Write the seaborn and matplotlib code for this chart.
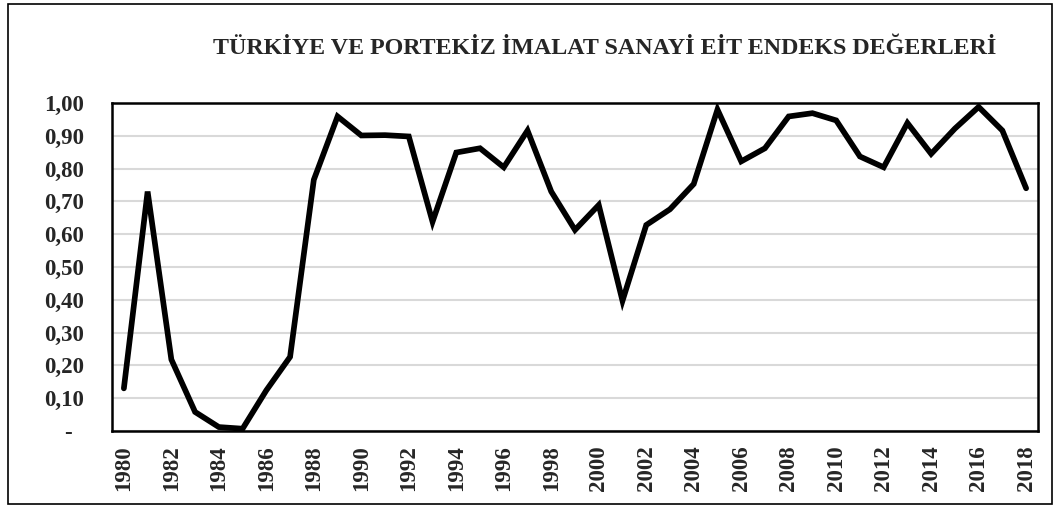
import matplotlib
matplotlib.use("Agg")
import matplotlib.pyplot as plt
import seaborn as sns
import pandas as pd
from matplotlib.patches import Rectangle

years = list(range(1980, 2019))
eit = [0.13, 0.73, 0.218, 0.058, 0.012, 0.007, 0.124, 0.226, 0.766, 0.959,
       0.901, 0.902, 0.898, 0.638, 0.849, 0.862, 0.804, 0.916, 0.73, 0.613,
       0.689, 0.397, 0.628, 0.676, 0.753, 0.98, 0.822, 0.862, 0.959, 0.969,
       0.947, 0.837, 0.804, 0.939, 0.845, 0.922, 0.988, 0.916, 0.74]
y_ticks = [0.0, 0.1, 0.2, 0.3, 0.4, 0.5, 0.6, 0.7, 0.8, 0.9, 1.0]
y_labels = ["-  ", "0,10", "0,20", "0,30", "0,40", "0,50", "0,60", "0,70", "0,80", "0,90", "1,00"]
x_ticks = years[::2]
title = "TÜRKİYE VE PORTEKİZ İMALAT SANAYİ EİT ENDEKS DEĞERLERİ"

df = pd.DataFrame({"Yil": years, "EIT": eit})

sns.set_theme(style="white")
plt.rcParams["font.family"] = ["Liberation Serif", "DejaVu Serif"]
plt.rcParams["font.weight"] = "bold"

fig = plt.figure(figsize=(10.61, 5.07), dpi=100)
ax = fig.add_axes([112 / 1061, 1 - 431 / 507, (1038 - 112) / 1061, (431 - 103) / 507])

sns.lineplot(data=df, x="Yil", y="EIT", ax=ax, color="black", linewidth=4.1,
             solid_joinstyle="miter")

ax.set_xlim(1979.5, 2018.5)
ax.set_ylim(0, 1.0)
ax.set_yticks(y_ticks)
ax.set_yticklabels(y_labels, fontsize=16.5, fontweight="bold")
ax.set_xticks(x_ticks)
ax.set_xticklabels([str(y) for y in x_ticks], rotation=90, fontsize=16.5, fontweight="bold")
ax.tick_params(axis="y", length=0, pad=20)
ax.tick_params(axis="x", length=0, pad=10)
ax.set_xlabel("")
ax.set_ylabel("")
ax.yaxis.grid(True, color="#d9d9d9", linewidth=1.5)
ax.set_axisbelow(True)
for s in ax.spines.values():
    s.set_color("black")
    s.set_linewidth(1.8)

fig.text(605 / 1061, 1 - 48 / 507, title, ha="center", va="center",
         fontsize=17.3, fontweight="bold")

fig.patches.append(Rectangle((8 / 1061, 3 / 507), 1044 / 1061, 500 / 507,
                             transform=fig.transFigure, fill=False,
                             edgecolor="black", linewidth=1.2))

fig.savefig("out.png", dpi=100)
